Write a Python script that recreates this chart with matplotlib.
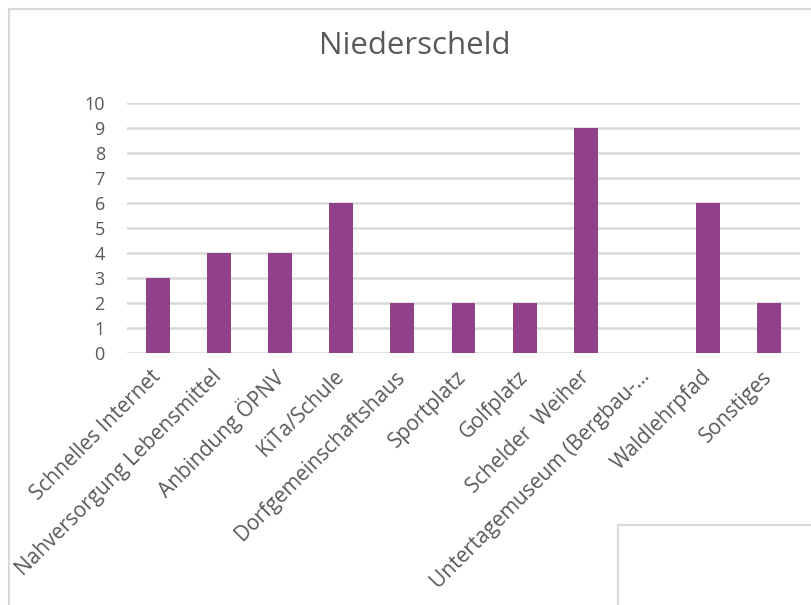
import matplotlib.pyplot as plt
from matplotlib.patches import Rectangle
import numpy as np

categories = ["Schnelles Internet", "Nahversorgung Lebensmittel", "Anbindung ÖPNV",
              "KiTa/Schule", "Dorfgemeinschaftshaus", "Sportplatz", "Golfplatz",
              "Schelder  Weiher", "Untertagemuseum (Bergbau-…", "Waldlehrpfad",
              "Sonstiges"]
values = [3, 4, 4, 6, 2, 2, 2, 9, 0, 6, 2]
yticks = list(range(0, 11))

bar_color = "#904189"
grid_color = "#D9D9D9"
text_color = "#595959"

plt.rcParams['font.family'] = ['Open Sans', 'DejaVu Sans']

fig = plt.figure(figsize=(8.11, 6.05), dpi=100)
W, H = 811, 605

# outer chart frame and the stray box in the lower right
fig.patches.append(Rectangle((8.5 / W, -0.1), 1.2, 1 - 8.5 / H + 0.1,
                             transform=fig.transFigure, fill=False,
                             edgecolor=grid_color, linewidth=1.5))
fig.patches.append(Rectangle((618 / W, -0.1), 1.0, 1 - 525 / H + 0.1,
                             transform=fig.transFigure, fill=False,
                             edgecolor=grid_color, linewidth=1.5))

ax = fig.add_axes([127 / W, 1 - 353 / H, (800 - 127) / W, (353 - 103) / H])
x = np.arange(len(categories))
ax.bar(x, values, width=0.39, color=bar_color, zorder=3)

ax.set_xlim(-0.5, len(categories) - 0.5)
ax.set_ylim(0, 10)
ax.set_yticks(yticks)
ax.set_yticklabels([str(v) for v in yticks])
for v in yticks:
    ax.axhline(v, color=grid_color, linewidth=1.8, zorder=1)

ax.set_xticks(x)
ax.set_xticklabels(categories, rotation=45, ha='right', va='center',
                   rotation_mode='anchor', fontsize=15)
ax.tick_params(axis='both', length=0, colors=text_color)
ax.tick_params(axis='y', pad=16, labelsize=13)
ax.tick_params(axis='x', pad=15)
for s in ax.spines.values():
    s.set_visible(False)

fig.text(415 / W, 1 - 46 / H, "Niederscheld", ha='center', va='center',
         fontsize=22.5, color=text_color)

fig.savefig("out.png", dpi=100)
